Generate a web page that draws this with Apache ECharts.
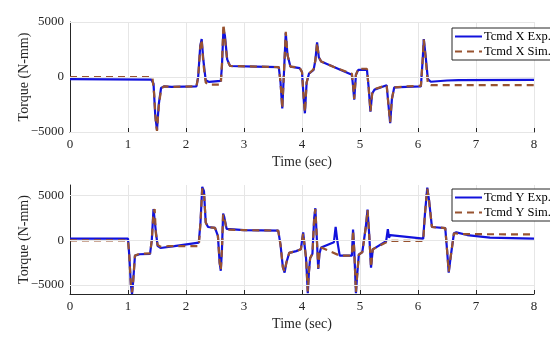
<!DOCTYPE html>
<html>
<head>
<meta charset="utf-8">
<script src="https://cdn.jsdelivr.net/npm/echarts@6/dist/echarts.min.js"></script>
<style>html,body{margin:0;padding:0;background:#fff}#c{width:550px;height:339px}</style>
</head>
<body>
<div id="c"></div>
<script>
// ---------- data ----------
const xTicks = [0, 1, 2, 3, 4, 5, 6, 7, 8];
const yTicksTop = [-5000, 0, 5000];
const yTicksBottom = [-5000, 0, 5000];
const seriesNames = ['Tcmd X Exp.', 'Tcmd X Sim.', 'Tcmd Y Exp.', 'Tcmd Y Sim.'];

const xExpT = [0, 1.40, 1.44, 1.47, 1.50, 1.53, 1.57, 1.62, 1.75, 2.18, 2.21, 2.245, 2.27, 2.30, 2.34, 2.40, 2.60, 2.62, 2.645, 2.67, 2.71, 2.76, 3.20, 3.60, 3.63, 3.66, 3.69, 3.72, 3.75, 3.80, 3.96, 4.00, 4.03, 4.05, 4.08, 4.12, 4.20, 4.23, 4.26, 4.29, 4.33, 4.60, 4.86, 4.88, 4.90, 4.93, 4.97, 5.12, 5.15, 5.18, 5.21, 5.25, 5.46, 5.49, 5.52, 5.55, 5.59, 5.80, 6.05, 6.08, 6.10, 6.13, 6.17, 6.22, 6.50, 6.70, 8.0];
const xExpV = [-200, -230, -600, -3500, -4800, -2500, -1000, -850, -900, -850, 0, 2800, 3450, 1500, -300, -450, -350, 1000, 4300, 3800, 1600, 1000, 950, 900, -500, -2850, 500, 4000, 2000, 950, 800, 450, -2000, -3300, -500, 300, 650, 1500, 3150, 1800, 1400, 800, 200, -800, -2050, 200, 650, 650, -1000, -3150, -1500, -1150, -750, -2500, -4200, -2000, -950, -900, -850, 1500, 3450, 2000, -200, -430, -320, -280, -270];

const xSimT = [0, 1.42, 1.45, 1.48, 1.50, 1.53, 1.57, 1.62, 1.75, 2.18, 2.21, 2.245, 2.27, 2.30, 2.34, 2.40, 2.60, 2.62, 2.645, 2.67, 2.71, 2.76, 3.20, 3.60, 3.63, 3.66, 3.69, 3.72, 3.75, 3.80, 3.96, 4.00, 4.03, 4.05, 4.08, 4.12, 4.20, 4.23, 4.26, 4.29, 4.33, 4.60, 4.86, 4.88, 4.90, 4.93, 4.97, 5.12, 5.15, 5.18, 5.21, 5.25, 5.46, 5.49, 5.52, 5.55, 5.59, 5.80, 6.05, 6.08, 6.10, 6.13, 6.17, 6.22, 8.0];
const xSimV = [0, 0, -1500, -4200, -4900, -2700, -1100, -850, -900, -850, 0, 2700, 3400, 1200, -500, -700, -700, 1200, 4800, 3600, 1500, 1000, 950, 900, -500, -2850, 500, 4100, 2000, 950, 850, 450, -2000, -3200, -500, 300, 700, 1500, 3100, 1800, 1400, 800, 300, -700, -2000, 200, 750, 750, -1000, -3100, -1500, -1100, -750, -2500, -4100, -2000, -950, -850, -800, 1500, 3400, 1800, -600, -730, -730];

const yExpT = [0, 1.00, 1.02, 1.05, 1.07, 1.09, 1.12, 1.20, 1.38, 1.41, 1.44, 1.46, 1.48, 1.51, 1.56, 1.80, 2.22, 2.25, 2.28, 2.31, 2.34, 2.38, 2.50, 2.55, 2.58, 2.60, 2.62, 2.64, 2.66, 2.70, 3.00, 3.59, 3.63, 3.67, 3.70, 3.73, 3.78, 3.90, 3.98, 4.02, 4.04, 4.07, 4.10, 4.12, 4.14, 4.18, 4.21, 4.23, 4.25, 4.28, 4.30, 4.33, 4.55, 4.58, 4.61, 4.65, 4.86, 4.88, 4.90, 4.93, 4.95, 4.98, 5.04, 5.10, 5.13, 5.16, 5.19, 5.22, 5.25, 5.45, 5.48, 5.50, 5.52, 6.09, 6.12, 6.16, 6.19, 6.24, 6.47, 6.50, 6.53, 6.56, 6.62, 6.66, 6.85, 7.24, 8.0];
const yExpV = [200, 200, -1500, -5000, -6000, -4500, -1700, -1550, -1500, 0, 3500, 3600, 1000, -600, -850, -650, -250, 2000, 6000, 5500, 2000, 1500, 1400, 500, -2500, -3400, -1000, 3000, 2600, 1300, 1150, 1100, -500, -3000, -3600, -2500, -1400, -1200, -1000, 900, 1000, -2000, -5900, -3500, -2000, -1500, 2500, 3600, 1000, -3200, -1500, -800, -200, 1500, -100, -1700, -1700, 1200, -1000, -5900, -4000, -1600, -1300, 1500, 3450, 500, -3050, -1000, -800, -100, 1250, 300, 600, 200, 3000, 5900, 4500, 1500, 1380, -1000, -3600, -2000, 800, 900, 600, 300, 190];

const ySimT = [0, 1.00, 1.02, 1.05, 1.07, 1.09, 1.12, 1.20, 1.38, 1.41, 1.44, 1.46, 1.48, 1.51, 1.56, 1.70, 2.22, 2.25, 2.28, 2.31, 2.34, 2.38, 2.50, 2.55, 2.58, 2.60, 2.62, 2.64, 2.66, 2.70, 3.00, 3.59, 3.63, 3.67, 3.70, 3.73, 3.78, 3.90, 3.98, 4.02, 4.04, 4.07, 4.10, 4.12, 4.14, 4.18, 4.21, 4.23, 4.25, 4.28, 4.30, 4.33, 4.65, 4.86, 4.88, 4.90, 4.93, 4.95, 4.98, 5.04, 5.10, 5.13, 5.16, 5.19, 5.22, 5.25, 5.50, 6.09, 6.12, 6.16, 6.19, 6.24, 6.47, 6.50, 6.53, 6.56, 6.62, 6.80, 8.0];
const ySimV = [0, 0, -1500, -5000, -5800, -4500, -1700, -1500, -1450, 0, 3200, 3500, 800, -500, -700, -650, -650, 2000, 5800, 5400, 2000, 1500, 1400, 500, -2500, -3300, -1000, 2900, 2500, 1200, 1150, 1100, -500, -3000, -3500, -2500, -1400, -1200, -1000, 800, 900, -2000, -5700, -3500, -2000, -1500, 2500, 3500, 1000, -3100, -1500, -800, -1700, -1700, 1100, -1000, -5800, -4000, -1600, -1300, 1500, 3400, 500, -3000, -1000, -800, -60, -60, 3000, 5800, 4500, 1500, 1380, -1000, -3500, -2000, 800, 700, 670];

// ---------- chart ----------
const pairs = (t, v) => t.map((x, i) => [x, v[i]]);
const FONT = 'Liberation Serif';
const AXC = '#262626';
const GRIDC = '#e6e6e6';
const EXPC = '#1212dc';
const SIMC = '#985330';
const fmt = v => String(v).replace('-', '\u2212');

function xAxis(gi) {
  return {
    type: 'value', gridIndex: gi, min: xTicks[0], max: xTicks[xTicks.length - 1], interval: 1,
    name: 'Time (sec)', nameLocation: 'middle', nameGap: 23, nameMoveOverlap: false,
    nameTextStyle: { fontFamily: FONT, fontSize: 14, color: AXC },
    axisLine: { show: true, onZero: false, lineStyle: { color: AXC, width: 1 } },
    axisTick: { show: true, inside: true, length: 4, lineStyle: { color: AXC } },
    axisLabel: { fontFamily: FONT, fontSize: 13, color: AXC, margin: 6 },
    splitLine: { show: true, lineStyle: { color: GRIDC, width: 1 } }
  };
}
function yAxis(gi, min, max, ticks) {
  return {
    type: 'value', gridIndex: gi, min: min, max: max,
    name: 'Torque (N-mm)', nameLocation: 'middle', nameGap: 39, nameRotate: 90, nameMoveOverlap: false,
    nameTextStyle: { fontFamily: FONT, fontSize: 14, color: AXC },
    axisLine: { show: true, onZero: false, lineStyle: { color: AXC, width: 1 } },
    axisTick: { show: true, inside: true, length: 4, lineStyle: { color: AXC }, customValues: ticks },
    axisLabel: { fontFamily: FONT, fontSize: 13, color: AXC, margin: 6, customValues: ticks, formatter: fmt },
    splitLine: { show: false }
  };
}
function gridLines(ticks) {
  return {
    silent: true, symbol: 'none', label: { show: false },
    lineStyle: { color: GRIDC, width: 1, type: 'solid' },
    data: ticks.map(v => ({ yAxis: v }))
  };
}
function line(name, gi, data, color, dashed, ticks) {
  const s = {
    name: name, type: 'line', xAxisIndex: gi, yAxisIndex: gi, data: data,
    symbol: 'none', showSymbol: false, animation: false,
    lineStyle: { color: color, width: 2.2, type: dashed ? [7, 5] : 'solid' },
    itemStyle: { color: color }, z: dashed ? 4 : 3
  };
  if (ticks) s.markLine = gridLines(ticks);
  return s;
}
function legend(names, top) {
  return {
    data: names, orient: 'vertical', left: 452, top: top, z: 20,
    itemWidth: 27, itemHeight: 10, itemGap: 2,
    padding: [2, 2, 2, 2],
    itemStyle: { opacity: 0 },
    borderColor: AXC, borderWidth: 1, backgroundColor: '#fff',
    textStyle: { fontFamily: FONT, fontSize: 12.5, color: '#000', padding: [0, 0, 0, -3] }
  };
}

const chart = echarts.init(document.getElementById('c'), null, { renderer: 'canvas' });
chart.setOption({
  backgroundColor: '#fff',
  animation: false,
  grid: [
    { left: 70, right: 16, top: 22, height: 110 },
    { left: 70, right: 16, top: 185, height: 109 }
  ],
  xAxis: [xAxis(0), xAxis(1)],
  yAxis: [yAxis(0, -5000, 5000, yTicksTop), yAxis(1, -6000, 6200, yTicksBottom)],
  legend: [legend([seriesNames[0], seriesNames[1]], 28), legend([seriesNames[2], seriesNames[3]], 189)],
  series: [
    line(seriesNames[0], 0, pairs(xExpT, xExpV), EXPC, false, yTicksTop),
    line(seriesNames[1], 0, pairs(xSimT, xSimV), SIMC, true),
    line(seriesNames[2], 1, pairs(yExpT, yExpV), EXPC, false, yTicksBottom),
    line(seriesNames[3], 1, pairs(ySimT, ySimV), SIMC, true)
  ]
});
</script>
</body>
</html>
